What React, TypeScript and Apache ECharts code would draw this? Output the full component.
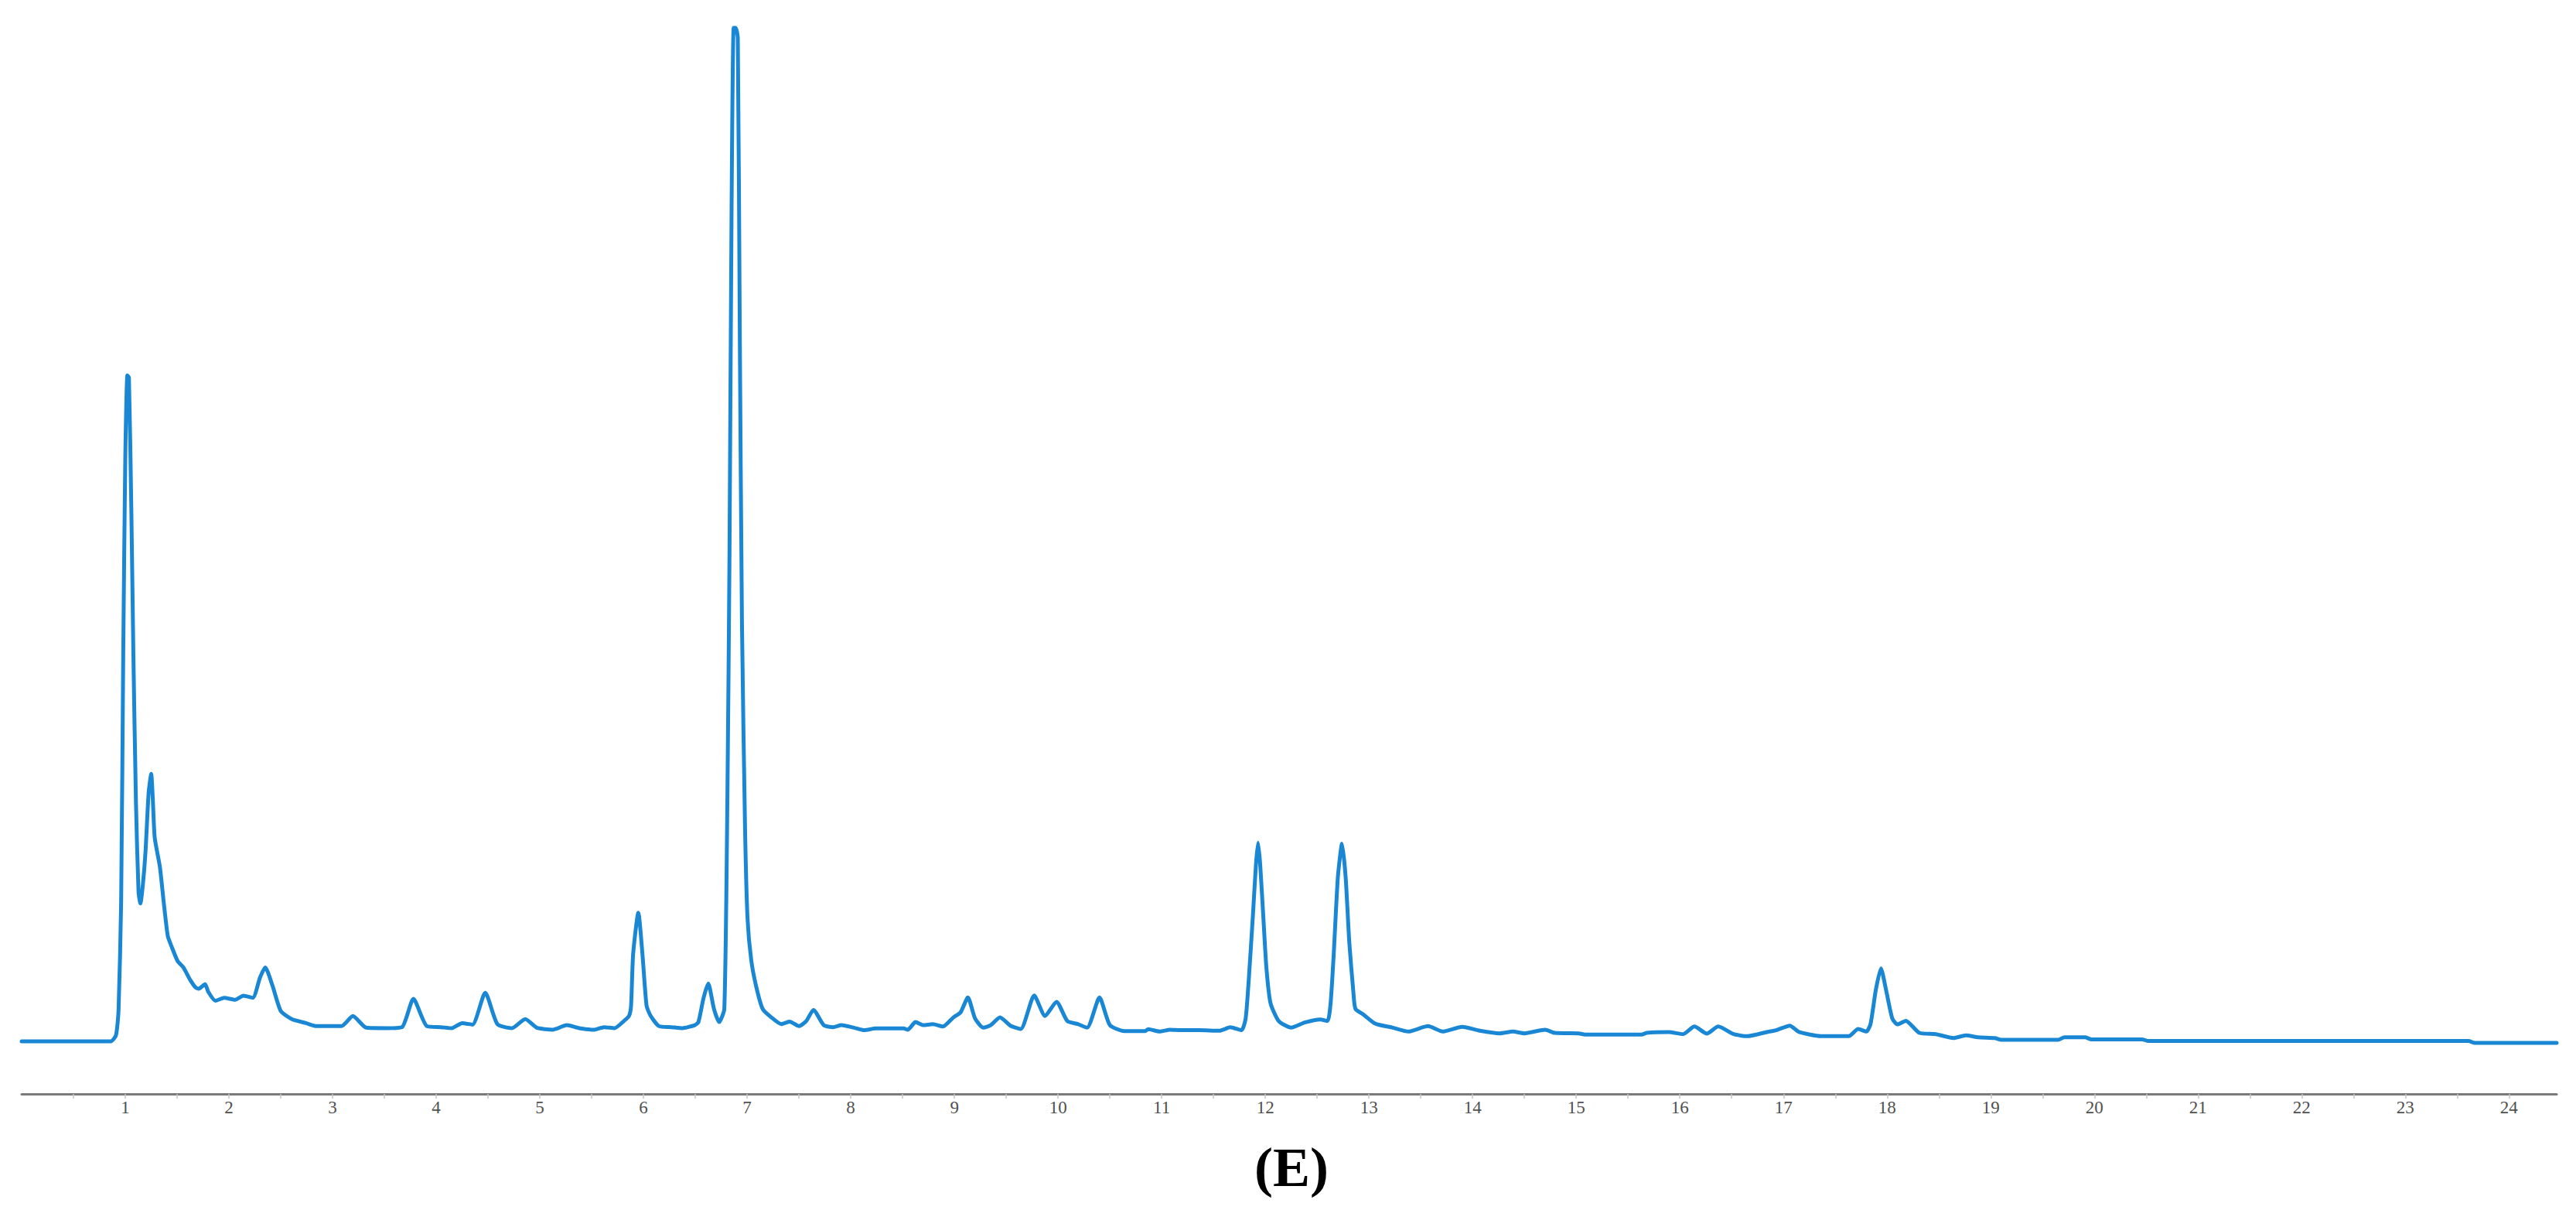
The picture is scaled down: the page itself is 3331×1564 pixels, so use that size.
import React, { useEffect, useRef } from "react";
import * as echarts from "echarts";

// Retention time (min) and detector response (relative units)
const retentionTimes: number[] = [
  0, 0.5, 0.86, 0.91, 0.935, 0.96, 0.98, 1.0, 1.02, 1.035, 1.058, 1.078, 1.103, 1.128, 1.146, 1.17, 1.195, 1.225,
  1.25, 1.265, 1.284, 1.334, 1.37, 1.41, 1.445, 1.506, 1.56, 1.63, 1.68, 1.71, 1.77, 1.8, 1.87, 1.955, 2.06, 2.14,
  2.23, 2.3, 2.35, 2.42, 2.5, 2.606, 2.743, 2.846, 3.086, 3.196, 3.325, 3.53, 3.67, 3.78, 3.91, 4.046, 4.15, 4.25,
  4.35, 4.473, 4.59, 4.73, 4.86, 4.97, 5.125, 5.26, 5.38, 5.52, 5.62, 5.72, 5.81, 5.86, 5.88, 5.9, 5.95, 5.99, 6.03,
  6.07, 6.15, 6.27, 6.375, 6.495, 6.53, 6.58, 6.625, 6.68, 6.73, 6.78, 6.81, 6.83, 6.85, 6.87, 6.89, 6.91, 6.93,
  6.95, 6.98, 7.004, 7.04, 7.09, 7.15, 7.23, 7.33, 7.41, 7.5, 7.57, 7.64, 7.74, 7.83, 7.91, 8.03, 8.13, 8.24, 8.51,
  8.55, 8.625, 8.7, 8.79, 8.89, 8.99, 9.06, 9.13, 9.2, 9.28, 9.35, 9.44, 9.54, 9.64, 9.77, 9.875, 9.985, 10.09,
  10.19, 10.28, 10.4, 10.5, 10.64, 10.84, 10.87, 10.98, 11.08, 11.18, 11.36, 11.56, 11.61, 11.66, 11.77, 11.81,
  11.84, 11.88, 11.91, 11.93, 11.95, 11.98, 12.01, 12.05, 12.13, 12.25, 12.38, 12.53, 12.6, 12.63, 12.66, 12.7,
  12.74, 12.775, 12.81, 12.85, 12.87, 12.95, 13.06, 13.23, 13.38, 13.57, 13.71, 13.9, 14.07, 14.26, 14.39, 14.5,
  14.7, 14.79, 15.02, 15.1, 15.63, 15.68, 15.89, 16.03, 16.14, 16.26, 16.37, 16.52, 16.65, 16.84, 16.93, 17.06,
  17.15, 17.36, 17.63, 17.72, 17.8, 17.84, 17.89, 17.94, 17.99, 18.05, 18.1, 18.18, 18.31, 18.47, 18.64, 18.76,
  18.88, 19.04, 19.1, 19.65, 19.71, 19.91, 19.97, 20.46, 20.52, 23.61, 23.67, 24.46,
];

const responses: number[] = [
  0, 0, 0, 0.6, 3.1, 13.8, 38, 57.6, 65.7, 65.5, 52.7, 38.2, 23.5, 14.7, 13.6, 15.5, 18.7, 24.5,
  26.4, 24, 20.1, 17.2, 13.8, 10.4, 9.4, 7.9, 7.3, 6.0, 5.3, 5.2, 5.65, 4.9, 4.0, 4.3, 4.1, 4.5,
  4.3, 6.3, 7.3, 5.5, 3.0, 2.2, 1.8, 1.5, 1.5, 2.5, 1.35, 1.3, 1.4, 4.2, 1.5, 1.4, 1.3, 1.8,
  1.65, 4.8, 1.7, 1.3, 2.2, 1.35, 1.15, 1.6, 1.3, 1.15, 1.4, 1.3, 2.0, 2.5, 3.5, 8.6, 12.7, 8.6, 3.5,
  2.5, 1.5, 1.4, 1.3, 1.6, 1.9, 4.3, 5.7, 3.2, 1.9, 3.2, 24.4, 48.2, 82.3, 100, 100, 99, 68.7,
  41.4, 21, 12.1, 8.0, 5.3, 3.2, 2.4, 1.7, 1.95, 1.5, 2.0, 3.1, 1.6, 1.4, 1.6, 1.35, 1.1, 1.27, 1.27,
  1.15, 1.9, 1.6, 1.7, 1.47, 2.36, 2.87, 4.33, 2.24, 1.35, 1.6, 2.37, 1.55, 1.22, 4.53, 2.5, 3.9, 2.0,
  1.7, 1.35, 4.33, 1.6, 1.02, 1.02, 1.2, 0.97, 1.15, 1.1, 1.1, 1.05, 1.22, 1.4, 1.1, 2.24,
  6.05, 12.4, 17.5, 19.6, 17.5, 12.4, 7.3, 3.77, 2.0, 1.35, 1.86, 2.16, 2.0, 3.77, 8.6, 16.2,
  19.5, 16.2, 9.8, 4.8, 3.2, 2.62, 1.75, 1.35, 0.97, 1.5, 0.97, 1.43, 1.05, 0.79, 0.97, 0.79,
  1.15, 0.84, 0.79, 0.66, 0.66, 0.84, 0.92, 0.71, 1.47, 0.76, 1.47, 0.71, 0.51, 0.92, 1.1, 1.55,
  0.92, 0.51, 0.51, 1.22, 0.97, 1.73, 5.04, 7.2, 5.04, 2.24, 1.68, 2.03, 0.84, 0.71, 0.33, 0.59,
  0.4, 0.33, 0.15, 0.15, 0.4, 0.4, 0.2, 0.2, 0.03, 0.03, -0.15, -0.15,
];

const xTickLabels: number[] = [
  1, 2, 3, 4, 5, 6, 7, 8, 9, 10, 11, 12, 13, 14, 15, 16, 17, 18, 19, 20, 21, 22, 23, 24,
];

const panelLabel = "(E)";

export default function App() {
  const ref = useRef<HTMLDivElement>(null);

  useEffect(() => {
    document.body.style.margin = "0";
    if (!ref.current) return;
    const chart = echarts.init(ref.current, null, { renderer: "svg" });

    const seriesData = retentionTimes.map((t, i) => [t, responses[i]]);
    const halfTicks: number[] = [];
    for (let i = 1; i <= 48; i++) halfTicks.push(i / 2);

    chart.setOption({
      animation: false,
      backgroundColor: "#ffffff",
      grid: {
        left: 28,
        right: 25,
        top: 36,
        bottom: 150,
        containLabel: false,
        outerBoundsMode: "none",
      },
      xAxis: {
        type: "value",
        min: 0,
        max: 24.46,
        axisLine: {
          show: true,
          onZero: false,
          lineStyle: { color: "#7a7a7a", width: 3 },
        },
        axisTick: {
          show: true,
          customValues: halfTicks,
          length: 6,
          lineStyle: { color: "#c4c4c4", width: 1.5 },
        },
        axisLabel: {
          show: true,
          customValues: xTickLabels,
          margin: 6,
          color: "#505050",
          fontFamily: "Liberation Serif",
          fontSize: 23,
        },
        splitLine: { show: false },
      },
      yAxis: {
        type: "value",
        min: -5.19,
        max: 100,
        show: false,
        splitLine: { show: false },
      },
      series: [
        {
          type: "line",
          data: seriesData,
          showSymbol: false,
          symbol: "none",
          smooth: 0.2,
          clip: false,
          lineStyle: { color: "#1a87d4", width: 5, join: "round", cap: "round" },
        },
      ],
      graphic: [
        {
          type: "text",
          x: 1670,
          y: 1509,
          style: {
            text: panelLabel,
            fill: "#000000",
            fontFamily: "Liberation Serif",
            fontWeight: "bold",
            fontSize: 72,
            align: "center",
            verticalAlign: "middle",
          },
        },
      ],
    });

    return () => {
      chart.dispose();
    };
  }, []);

  return <div ref={ref} style={{ width: 3331, height: 1564, display: "block" }} />;
}
